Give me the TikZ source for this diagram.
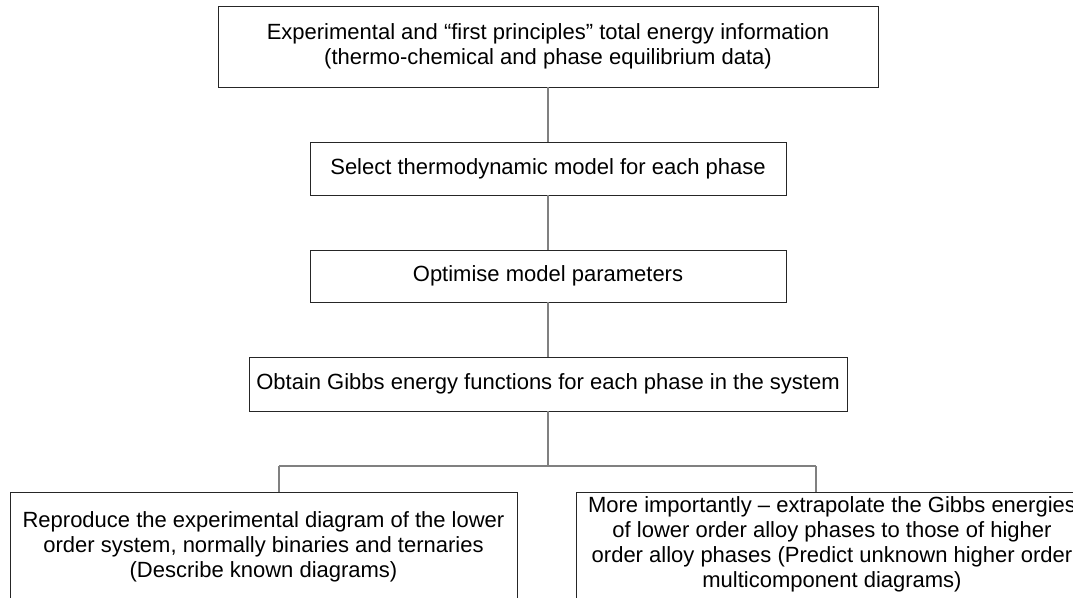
\documentclass[tikz,border=0pt]{standalone}
\usepackage{fontspec}
\setmainfont{Liberation Sans}
\begin{document}
\begin{tikzpicture}[x=1pt,y=-1pt,
  box/.style={draw=black!85,line width=0.9pt,inner sep=0pt,align=center,
    font=\fontsize{22}{25}\selectfont},
  txt/.style={inner sep=0pt,align=center,font=\fontsize{22}{25}\selectfont},
  conn/.style={draw=black!50,line width=1.3pt}]
\useasboundingbox (0,0) rectangle (1073,597);
\clip (0,0) rectangle (1073,597);
\fill[white] (0,0) rectangle (1073,597);
\node[box,minimum width=660pt,minimum height=81pt] (b1) at (548,46.5)
  {Experimental and “first principles” total energy information\\(thermo-chemical and phase equilibrium data)};
\node[box,minimum width=476pt,minimum height=53pt] (b2) at (548,168.5)
  {Select thermodynamic model for each phase};
\node[box,minimum width=476pt,minimum height=52pt] (b3) at (548,276)
  {Optimise model parameters};
\node[box,minimum width=598pt,minimum height=54pt] (b4) at (548,384)
  {Obtain Gibbs energy functions for each phase in the system};
\node[box,minimum width=507pt,minimum height=130pt,anchor=north] (b5) at (263.5,492) {};
\node[box,minimum width=512pt,minimum height=130pt,anchor=north] (b6) at (832,492) {};
\node[txt,anchor=north] (t5) at (263.5,511)
  {Reproduce the experimental diagram of the lower\\order system, normally binaries and ternaries\\(Describe known diagrams)};
\node[txt,anchor=north] (t6) at (832,496)
  {More importantly – extrapolate the Gibbs energies\\of lower order alloy phases to those of higher\\order alloy phases (Predict unknown higher order\\multicomponent diagrams)};
\coordinate (jl) at (279,466);
\coordinate (jr) at (816,466);
\draw[conn] (b1.south) -- (b2.north);
\draw[conn] (b2.south) -- (b3.north);
\draw[conn] (b3.south) -- (b4.north);
\draw[conn] (b4.south) -- (b4.south |- jl);
\draw[conn] (jl) -- (jr);
\draw[conn] (jl) -- (jl |- b5.north);
\draw[conn] (jr) -- (jr |- b6.north);
\end{tikzpicture}
\end{document}
